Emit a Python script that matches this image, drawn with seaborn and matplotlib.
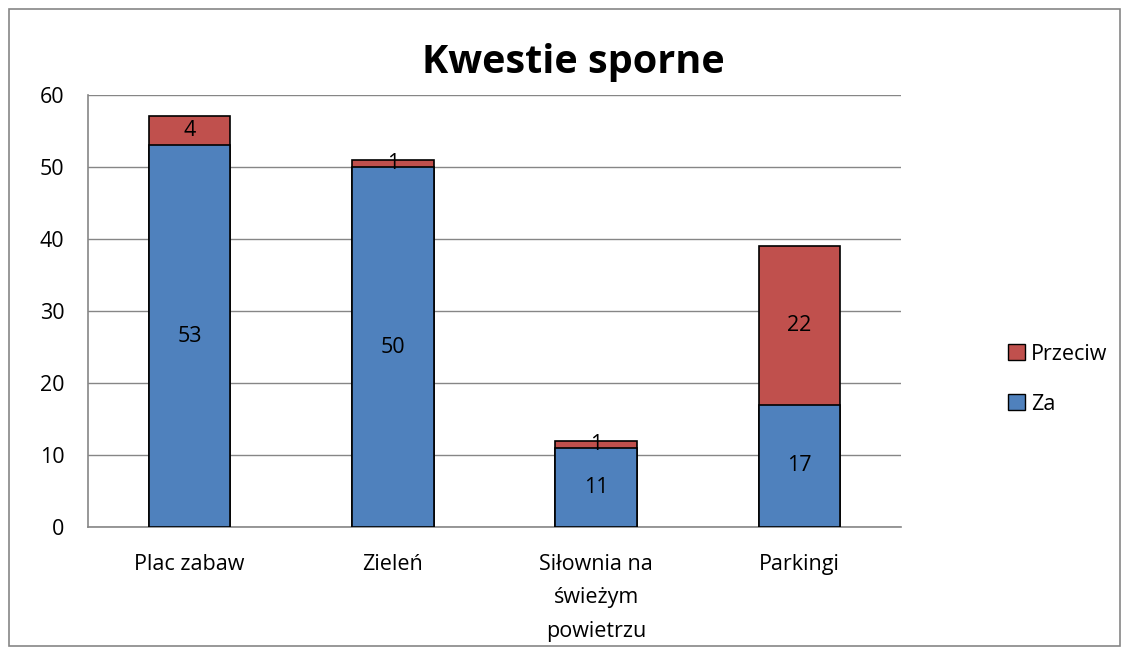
import pandas as pd
import matplotlib.pyplot as plt
import seaborn as sns
from matplotlib.patches import Rectangle, Patch

# Dane
categories = ['Plac zabaw', 'Zieleń', 'Siłownia na\nświeżym\npowietrzu', 'Parkingi']
za = [53, 50, 11, 17]
przeciw = [4, 1, 1, 22]
y_ticks = [0, 10, 20, 30, 40, 50, 60]

blue = '#4F81BD'
red = '#C0504D'
gray = '#868686'

sns.set_style('white')
plt.rcParams['font.family'] = ['Open Sans', 'DejaVu Sans']
plt.rcParams['text.color'] = 'black'
plt.rcParams['xtick.color'] = 'black'
plt.rcParams['ytick.color'] = 'black'

df = pd.DataFrame({'kategoria': categories, 'Za': za, 'Przeciw': przeciw})
df['suma'] = df['Za'] + df['Przeciw']

fig = plt.figure(figsize=(11.29, 6.54), dpi=100)
ax = fig.add_axes([0.078, 0.194, 0.720, 0.661])

# Ramka wokół wykresu
fig.patches.append(Rectangle((0.008, 0.012), 0.984, 0.974, transform=fig.transFigure,
                             fill=False, edgecolor=gray, linewidth=1.2))

# Słupki skumulowane: najpierw suma (czerwony), potem Za (niebieski)
sns.barplot(data=df, x='kategoria', y='suma', color=red, width=0.4,
            edgecolor='black', linewidth=1.2, saturation=1, ax=ax, zorder=3)
sns.barplot(data=df, x='kategoria', y='Za', color=blue, width=0.4,
            edgecolor='black', linewidth=1.2, saturation=1, ax=ax, zorder=3)

# Etykiety wartości
for i, row in df.iterrows():
    ax.text(i, row['Za'] / 2, str(row['Za']), ha='center', va='center',
            fontsize=15.5, color='black', zorder=4)
    ax.text(i, row['Za'] + row['Przeciw'] / 2, str(row['Przeciw']), ha='center',
            va='center', fontsize=15.5, color='black', zorder=4)

ax.set_ylim(0, 60)
ax.set_xlim(-0.5, 3.5)
ax.set_yticks(y_ticks)
ax.yaxis.grid(True, color=gray, linewidth=1, zorder=0)
ax.set_axisbelow(True)
ax.set_xlabel('')
ax.set_ylabel('')

for s in ['top', 'right']:
    ax.spines[s].set_visible(False)
for s in ['left', 'bottom']:
    ax.spines[s].set_color(gray)
    ax.spines[s].set_linewidth(1.2)

ax.tick_params(axis='y', length=8, color=gray, width=1, labelsize=15.5, pad=9,
               labelcolor='black')
ax.set_xticks([0, 1, 2, 3])
ax.set_xticklabels(categories, fontsize=15.5, linespacing=1.8, color='black')
ax.tick_params(axis='x', length=0, pad=19)
ax.set_xticks([-0.5, 0.5, 1.5, 2.5, 3.5], minor=True)
ax.tick_params(axis='x', which='minor', length=8, color=gray, width=1)

# Tytuł wyśrodkowany względem całego obrazka
fig.text(0.508, 0.905, 'Kwestie sporne', fontsize=28.5, fontweight='bold',
         ha='center', va='center', color='black')

handles = [Patch(facecolor=red, edgecolor='black', label='Przeciw'),
           Patch(facecolor=blue, edgecolor='black', label='Za')]
fig.legend(handles=handles, loc='center left', bbox_to_anchor=(0.876, 0.42),
           frameon=False, fontsize=15.5, handlelength=0.75, handleheight=0.75,
           handletextpad=0.3, labelspacing=1.35)

plt.savefig('out.png', dpi=100)
